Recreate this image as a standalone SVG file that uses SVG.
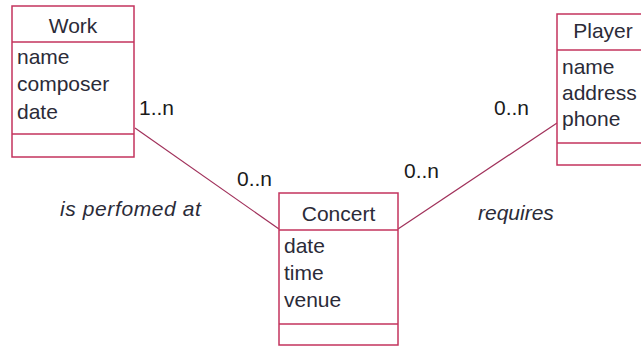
<svg xmlns="http://www.w3.org/2000/svg" width="641" height="346" viewBox="0 0 641 346">
<style>
.box{fill:#ffffff;stroke:#c3335d;stroke-width:1.5}
.sep{stroke:#c3335d;stroke-width:1.5}
.t{font-family:"Liberation Sans",Arial,sans-serif;font-size:21px;fill:#2b2b38}
.c{text-anchor:middle}
.m{font-family:"Liberation Sans",Arial,sans-serif;font-size:21px;fill:#1a1a1a}
.i{font-family:"Liberation Sans",Arial,sans-serif;font-size:21px;font-style:italic;fill:#2b2b38}
.conn{stroke:#a0305a;stroke-width:1.2;fill:none}
</style>
<rect width="641" height="346" fill="#ffffff"/>
<g id="connectors">
<line class="conn" x1="135" y1="128" x2="279" y2="229"/>
<line class="conn" x1="398" y1="229" x2="557" y2="123"/>
</g>
<g id="work">
<rect class="box" x="12" y="6" width="122" height="151"/>
<line class="sep" x1="12" y1="42" x2="134" y2="42"/>
<line class="sep" x1="12" y1="134" x2="134" y2="134"/>
<text class="t c" x="73" y="33">Work</text>
<text class="t" x="17" y="64">name</text>
<text class="t" x="17" y="91">composer</text>
<text class="t" x="17" y="119">date</text>
</g>
<g id="player">
<rect class="box" x="557" y="14" width="92" height="151"/>
<line class="sep" x1="557" y1="50" x2="649" y2="50"/>
<line class="sep" x1="557" y1="143" x2="649" y2="143"/>
<text class="t c" x="603" y="38">Player</text>
<text class="t" x="562" y="74">name</text>
<text class="t" x="562" y="100">address</text>
<text class="t" x="562" y="126">phone</text>
</g>
<g id="concert">
<rect class="box" x="279" y="193" width="119" height="152"/>
<line class="sep" x1="279" y1="230" x2="398" y2="230"/>
<line class="sep" x1="279" y1="324" x2="398" y2="324"/>
<text class="t c" x="338.5" y="221">Concert</text>
<text class="t" x="284" y="253">date</text>
<text class="t" x="284" y="280">time</text>
<text class="t" x="284" y="307">venue</text>
</g>
<g id="labels">
<text class="m" x="139" y="115">1..n</text>
<text class="m" x="237" y="186">0..n</text>
<text class="m" x="404" y="178">0..n</text>
<text class="m" x="494" y="115">0..n</text>
<text class="i" x="60" y="216" letter-spacing="0.6">is perfomed at</text>
<text class="i" x="478" y="220">requires</text>
</g>
</svg>
